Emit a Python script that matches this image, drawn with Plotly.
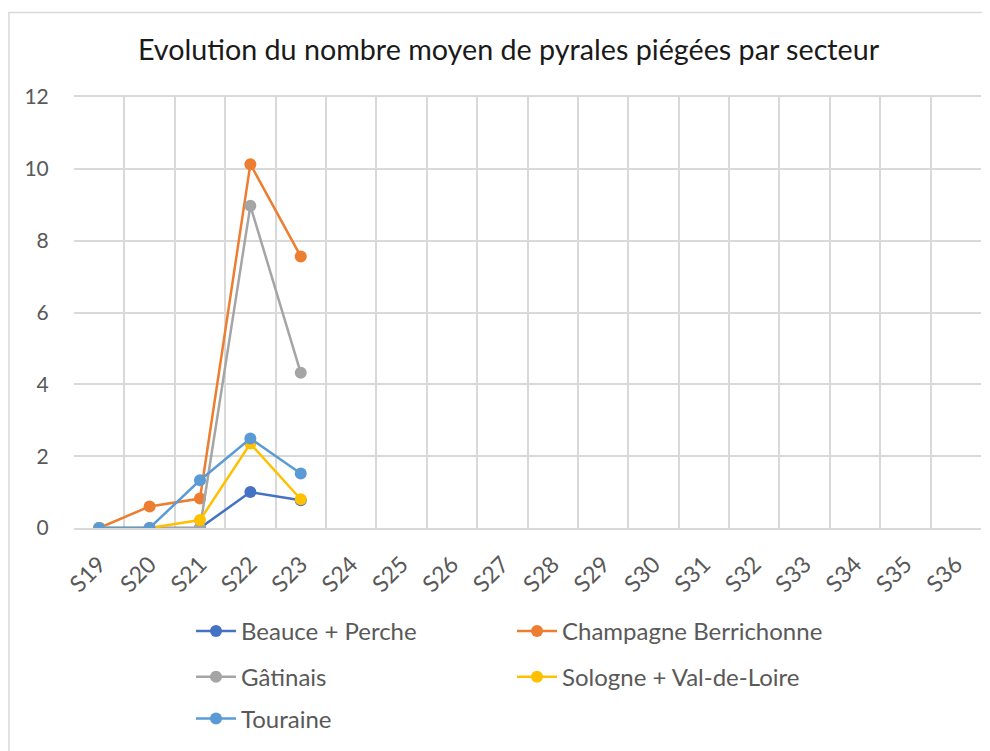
import plotly.graph_objects as go

semaines = ["S19", "S20", "S21", "S22", "S23", "S24", "S25", "S26", "S27",
            "S28", "S29", "S30", "S31", "S32", "S33", "S34", "S35", "S36"]

beauce_perche = [0, 0, 0, 1.0, 0.77]
champagne_berrichonne = [0, 0.6, 0.82, 10.13, 7.56]
gatinais = [0, 0, 0, 8.97, 4.32]
sologne_val_de_loire = [0, 0, 0.22, 2.35, 0.8]
touraine = [0, 0, 1.33, 2.49, 1.52]

# nom, valeurs, couleur, ligne de légende
series = [
    ("Beauce + Perche", beauce_perche, "#4472C4", "legend"),
    ("Champagne Berrichonne", champagne_berrichonne, "#ED7D31", "legend"),
    ("Gâtinais", gatinais, "#A5A5A5", "legend2"),
    ("Sologne + Val-de-Loire", sologne_val_de_loire, "#FFC000", "legend2"),
    ("Touraine", touraine, "#5B9BD5", "legend3"),
]

fig = go.Figure()

for nom, valeurs, couleur, legende in series:
    fig.add_trace(
        go.Scatter(
            x=semaines[:len(valeurs)],
            y=valeurs,
            mode="lines+markers",
            name=nom,
            legend=legende,
            line=dict(color=couleur, width=2.5),
            marker=dict(color=couleur, size=12)
        )
    )


def ligne_legende(y):
    return dict(
        orientation="h",
        x=0.129,
        xanchor="left",
        y=y,
        yanchor="middle",
        entrywidth=266,
        entrywidthmode="pixels",
        font=dict(size=24, color="#595959"),
        bgcolor="rgba(0,0,0,0)",
        itemwidth=40
    )


fig.update_layout(
    width=982,
    height=743,
    paper_bgcolor="white",
    plot_bgcolor="white",
    font=dict(family="Lato, Open Sans, sans-serif", color="#595959"),
    margin=dict(l=66, r=9, t=89, b=221),
    title=dict(
        text="Evolution du nombre moyen de pyrales piégées par secteur",
        x=0.5097,
        xanchor="center",
        y=1 - 42 / 743,
        yanchor="middle",
        font=dict(size=28.7, color="#1a1a1a")
    ),
    legend=ligne_legende(-0.240),
    legend2=ligne_legende(-0.346),
    legend3=ligne_legende(-0.443),
    showlegend=True,
    shapes=[
        dict(type="rect", xref="paper", yref="paper",
             x0=-0.0717, x1=1.03, y0=-0.6, y1=1.196,
             line=dict(color="#D9D9D9", width=1.5))
    ]
)

fig.update_xaxes(
    type="category",
    categoryorder="array",
    categoryarray=semaines,
    range=[-0.5, len(semaines) - 0.5],
    tickson="boundaries",
    showgrid=True,
    gridcolor="#D9D9D9",
    gridwidth=1.5,
    showline=True,
    linecolor="#D9D9D9",
    linewidth=1.5,
    mirror=True,
    ticks="",
    ticklabelstandoff=12,
    tickangle=-45,
    tickfont=dict(size=23, color="#595959"),
    zeroline=False,
    automargin=False
)

fig.update_yaxes(
    range=[0, 12],
    dtick=2,
    showgrid=True,
    gridcolor="#D9D9D9",
    gridwidth=1.5,
    showline=False,
    zeroline=False,
    ticks="outside",
    ticklen=20,
    tickcolor="rgba(0,0,0,0)",
    tickfont=dict(size=21, color="#595959"),
    automargin=False
)

fig.write_html("out.html")
